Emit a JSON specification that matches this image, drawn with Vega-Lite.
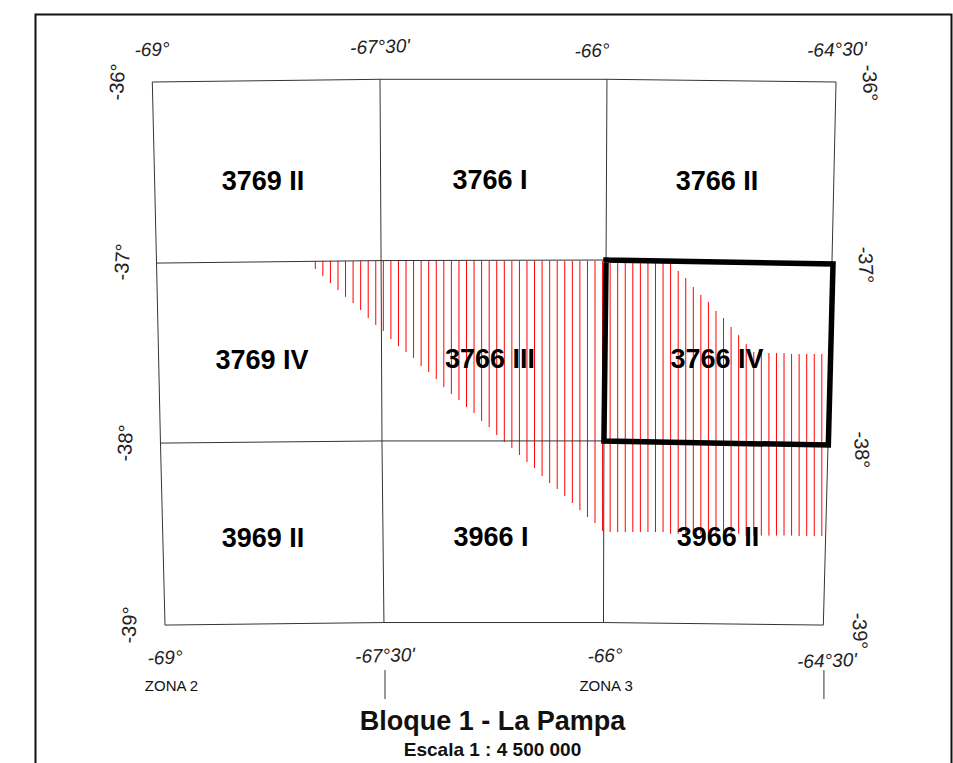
{"$schema":"https://vega.github.io/schema/vega-lite/v6.json","width":953,"height":763,"autosize":{"type":"none"},"padding":0,"background":"white","config":{"view":{"stroke":null}},
"datasets":{
"grid":[
{"path":"top","seq":1,"lon":-69.048,"lat":-36.0},{"path":"top","seq":2,"lon":-67.542,"lat":-35.985},{"path":"top","seq":3,"lon":-66.041,"lat":-35.985},{"path":"top","seq":4,"lon":-64.526,"lat":-36.0},
{"path":"p37","seq":1,"lon":-69.02,"lat":-37.006},{"path":"p37","seq":2,"lon":-67.535,"lat":-36.992},{"path":"p37","seq":3,"lon":-66.047,"lat":-36.989},{"path":"p37","seq":4,"lon":-64.553,"lat":-37.006},
{"path":"p38","seq":1,"lon":-68.994,"lat":-38.006},{"path":"p38","seq":2,"lon":-67.529,"lat":-37.994},{"path":"p38","seq":3,"lon":-66.061,"lat":-37.994},{"path":"p38","seq":4,"lon":-64.579,"lat":-38.017},
{"path":"p39","seq":1,"lon":-68.964,"lat":-39.017},{"path":"p39","seq":2,"lon":-67.516,"lat":-39.003},{"path":"p39","seq":3,"lon":-66.064,"lat":-39.003},{"path":"p39","seq":4,"lon":-64.61,"lat":-39.017},
{"path":"m69","seq":1,"lon":-69.048,"lat":-36.0},{"path":"m69","seq":2,"lon":-69.02,"lat":-37.006},{"path":"m69","seq":3,"lon":-68.994,"lat":-38.006},{"path":"m69","seq":4,"lon":-68.964,"lat":-39.017},
{"path":"m675","seq":1,"lon":-67.542,"lat":-35.985},{"path":"m675","seq":2,"lon":-67.535,"lat":-36.992},{"path":"m675","seq":3,"lon":-67.529,"lat":-37.994},{"path":"m675","seq":4,"lon":-67.516,"lat":-39.003},
{"path":"m66","seq":1,"lon":-66.041,"lat":-35.985},{"path":"m66","seq":2,"lon":-66.047,"lat":-36.989},{"path":"m66","seq":3,"lon":-66.061,"lat":-37.994},{"path":"m66","seq":4,"lon":-66.064,"lat":-39.003},
{"path":"m645","seq":1,"lon":-64.526,"lat":-36.0},{"path":"m645","seq":2,"lon":-64.553,"lat":-37.006},{"path":"m645","seq":3,"lon":-64.579,"lat":-38.017},{"path":"m645","seq":4,"lon":-64.61,"lat":-39.017},
{"path":"t1","seq":1,"lon":-67.509,"lat":-39.267},{"path":"t1","seq":2,"lon":-67.509,"lat":-39.428},
{"path":"t2","seq":1,"lon":-64.606,"lat":-39.267},{"path":"t2","seq":2,"lon":-64.606,"lat":-39.428}
],
"frame":[{"seq":1,"lon":-69.8205,"lat":-39.783},{"seq":2,"lon":-69.8205,"lat":-35.625},{"seq":3,"lon":-63.7623,"lat":-35.625},{"seq":4,"lon":-63.7623,"lat":-39.783}],
"box":[{"seq":1,"lon":-66.047,"lat":-36.989},{"seq":2,"lon":-64.546,"lat":-37.011},{"seq":3,"lon":-64.577,"lat":-38.017},{"seq":4,"lon":-66.061,"lat":-37.994},{"seq":5,"lon":-66.047,"lat":-36.989}],
"hatch":[
{"lon":-67.97,"lat":-36.994,"lat2":-37.039},{"lon":-67.92,"lat":-36.994,"lat2":-37.078},{"lon":-67.87,"lat":-36.994,"lat2":-37.117},{"lon":-67.82,"lat":-36.994,"lat2":-37.156},{"lon":-67.77,"lat":-36.994,"lat2":-37.194},{"lon":-67.72,"lat":-36.994,"lat2":-37.228},{"lon":-67.67,"lat":-36.994,"lat2":-37.267},{"lon":-67.62,"lat":-36.994,"lat2":-37.311},{"lon":-67.57,"lat":-36.994,"lat2":-37.35},{"lon":-67.52,"lat":-36.994,"lat2":-37.383},
{"lon":-67.47,"lat":-36.994,"lat2":-37.428},{"lon":-67.42,"lat":-36.994,"lat2":-37.467},{"lon":-67.37,"lat":-36.994,"lat2":-37.5},{"lon":-67.32,"lat":-36.994,"lat2":-37.533},{"lon":-67.27,"lat":-36.994,"lat2":-37.578},{"lon":-67.22,"lat":-36.994,"lat2":-37.611},{"lon":-67.17,"lat":-36.994,"lat2":-37.65},{"lon":-67.12,"lat":-36.994,"lat2":-37.694},{"lon":-67.07,"lat":-36.994,"lat2":-37.733},{"lon":-67.02,"lat":-36.994,"lat2":-37.767},
{"lon":-66.97,"lat":-36.994,"lat2":-37.806},{"lon":-66.92,"lat":-36.994,"lat2":-37.839},{"lon":-66.87,"lat":-36.994,"lat2":-37.883},{"lon":-66.82,"lat":-36.994,"lat2":-37.917},{"lon":-66.77,"lat":-36.994,"lat2":-37.961},{"lon":-66.72,"lat":-36.994,"lat2":-38.0},{"lon":-66.67,"lat":-36.994,"lat2":-38.033},{"lon":-66.62,"lat":-36.994,"lat2":-38.072},{"lon":-66.57,"lat":-36.994,"lat2":-38.111},{"lon":-66.52,"lat":-36.994,"lat2":-38.144},
{"lon":-66.47,"lat":-36.994,"lat2":-38.189},{"lon":-66.42,"lat":-36.994,"lat2":-38.228},{"lon":-66.37,"lat":-36.994,"lat2":-38.261},{"lon":-66.32,"lat":-36.994,"lat2":-38.3},{"lon":-66.27,"lat":-36.994,"lat2":-38.339},{"lon":-66.22,"lat":-36.994,"lat2":-38.378},{"lon":-66.17,"lat":-36.994,"lat2":-38.417},{"lon":-66.12,"lat":-36.994,"lat2":-38.45},{"lon":-66.07,"lat":-36.994,"lat2":-38.494},
{"lon":-66.02,"lat":-37.006,"lat2":-38.5},{"lon":-65.97,"lat":-37.006,"lat2":-38.5},{"lon":-65.92,"lat":-37.006,"lat2":-38.5},{"lon":-65.87,"lat":-37.006,"lat2":-38.5},{"lon":-65.82,"lat":-37.006,"lat2":-38.5},{"lon":-65.77,"lat":-37.006,"lat2":-38.5},{"lon":-65.72,"lat":-37.006,"lat2":-38.5},{"lon":-65.67,"lat":-37.006,"lat2":-38.5},{"lon":-65.62,"lat":-37.006,"lat2":-38.51},
{"lon":-65.57,"lat":-37.05,"lat2":-38.51},{"lon":-65.52,"lat":-37.089,"lat2":-38.51},{"lon":-65.47,"lat":-37.139,"lat2":-38.51},{"lon":-65.42,"lat":-37.183,"lat2":-38.51},{"lon":-65.37,"lat":-37.222,"lat2":-38.51},{"lon":-65.32,"lat":-37.272,"lat2":-38.51},{"lon":-65.27,"lat":-37.311,"lat2":-38.51},{"lon":-65.22,"lat":-37.361,"lat2":-38.51},{"lon":-65.17,"lat":-37.406,"lat2":-38.51},{"lon":-65.12,"lat":-37.456,"lat2":-38.52},
{"lon":-65.07,"lat":-37.5,"lat2":-38.52},{"lon":-65.02,"lat":-37.506,"lat2":-38.52},{"lon":-64.97,"lat":-37.506,"lat2":-38.52},{"lon":-64.92,"lat":-37.506,"lat2":-38.52},{"lon":-64.87,"lat":-37.506,"lat2":-38.52},{"lon":-64.82,"lat":-37.511,"lat2":-38.52},{"lon":-64.77,"lat":-37.511,"lat2":-38.522},{"lon":-64.72,"lat":-37.511,"lat2":-38.522},{"lon":-64.67,"lat":-37.511,"lat2":-38.522},{"lon":-64.62,"lat":-37.511,"lat2":-38.522}
],
"labels":[
{"group":"cell","label":"3769 II","lon":-68.316,"lat":-36.556},{"group":"cell","label":"3766 I","lon":-66.815,"lat":-36.55},{"group":"cell","label":"3766 II","lon":-65.313,"lat":-36.556},
{"group":"cell","label":"3769 IV","lon":-68.322,"lat":-37.55},{"group":"cell","label":"3766 III","lon":-66.815,"lat":-37.544},{"group":"cell","label":"3766 IV","lon":-65.313,"lat":-37.544},
{"group":"cell","label":"3969 II","lon":-68.316,"lat":-38.539},{"group":"cell","label":"3966 I","lon":-66.808,"lat":-38.533},{"group":"cell","label":"3966 II","lon":-65.307,"lat":-38.533},
{"group":"h","label":"-69°","lon":-69.05,"lat":-35.822},{"group":"h","label":"-67°30'","lon":-67.542,"lat":-35.806},{"group":"h","label":"-66°","lon":-66.14,"lat":-35.828},{"group":"h","label":"-64°30'","lon":-64.52,"lat":-35.822},
{"group":"h","label":"-69°","lon":-68.964,"lat":-39.2},{"group":"h","label":"-67°30'","lon":-67.509,"lat":-39.189},{"group":"h","label":"-66°","lon":-66.054,"lat":-39.189},{"group":"h","label":"-64°30'","lon":-64.586,"lat":-39.217},
{"group":"left","label":"-36°","lon":-69.275,"lat":-36.0},{"group":"left","label":"-37°","lon":-69.242,"lat":-37.0},{"group":"left","label":"-38°","lon":-69.222,"lat":-38.006},{"group":"left","label":"-39°","lon":-69.195,"lat":-39.017},
{"group":"right","label":"-36°","lon":-64.308,"lat":-36.006},{"group":"right","label":"-37°","lon":-64.334,"lat":-37.017},{"group":"right","label":"-38°","lon":-64.361,"lat":-38.044},{"group":"right","label":"-39°","lon":-64.374,"lat":-39.05},
{"group":"zona","label":"ZONA 2","lon":-68.921,"lat":-39.356},{"group":"zona","label":"ZONA 3","lon":-66.047,"lat":-39.356},
{"group":"title","label":"Bloque 1 - La Pampa","lon":-66.798,"lat":-39.556},
{"group":"scale","label":"Escala 1 : 4 500 000","lon":-66.798,"lat":-39.711}
]},
"encoding":{
"x":{"field":"lon","type":"quantitative","axis":null,"scale":{"domain":[-70.0553,-63.7524],"nice":false,"zero":false}},
"y":{"field":"lat","type":"quantitative","axis":null,"scale":{"domain":[-39.7833,-35.5444],"nice":false,"zero":false}}
},
"layer":[
{"data":{"name":"frame"},"mark":{"type":"line","color":"#111111","strokeWidth":2,"strokeJoin":"miter"},"encoding":{"order":{"field":"seq","type":"quantitative"}}},
{"data":{"name":"hatch"},"mark":{"type":"rule","color":"#ff0000","strokeWidth":1},"encoding":{"y2":{"field":"lat2"}}},
{"data":{"name":"grid"},"mark":{"type":"line","color":"#333333","strokeWidth":1},"encoding":{"detail":{"field":"path"},"order":{"field":"seq","type":"quantitative"}}},
{"data":{"name":"box"},"mark":{"type":"line","color":"#000000","strokeWidth":5.5,"strokeJoin":"miter","strokeCap":"square"},"encoding":{"order":{"field":"seq","type":"quantitative"}}},
{"data":{"name":"labels"},"transform":[{"filter":"datum.group==='cell'"}],"mark":{"type":"text","font":"Liberation Sans","fontWeight":"bold","fontSize":27,"color":"#000000","align":"center","baseline":"middle"},"encoding":{"text":{"field":"label"}}},
{"data":{"name":"labels"},"transform":[{"filter":"datum.group==='h'"}],"mark":{"type":"text","font":"Liberation Sans","fontStyle":"italic","fontSize":19,"color":"#222222","align":"center","baseline":"middle","angle":-2},"encoding":{"text":{"field":"label"}}},
{"data":{"name":"labels"},"transform":[{"filter":"datum.group==='left'"}],"mark":{"type":"text","font":"Liberation Sans","fontSize":20,"color":"#222222","align":"center","baseline":"middle","angle":-87},"encoding":{"text":{"field":"label"}}},
{"data":{"name":"labels"},"transform":[{"filter":"datum.group==='right'"}],"mark":{"type":"text","font":"Liberation Sans","fontSize":20,"color":"#222222","align":"center","baseline":"middle","angle":87},"encoding":{"text":{"field":"label"}}},
{"data":{"name":"labels"},"transform":[{"filter":"datum.group==='zona'"}],"mark":{"type":"text","font":"Liberation Sans","fontSize":15,"color":"#111111","align":"center","baseline":"middle"},"encoding":{"text":{"field":"label"}}},
{"data":{"name":"labels"},"transform":[{"filter":"datum.group==='title'"}],"mark":{"type":"text","font":"Liberation Sans","fontWeight":"bold","fontSize":27,"color":"#111111","align":"center","baseline":"middle"},"encoding":{"text":{"field":"label"}}},
{"data":{"name":"labels"},"transform":[{"filter":"datum.group==='scale'"}],"mark":{"type":"text","font":"Liberation Sans","fontWeight":"bold","fontSize":19,"color":"#111111","align":"center","baseline":"middle"},"encoding":{"text":{"field":"label"}}}
]}
